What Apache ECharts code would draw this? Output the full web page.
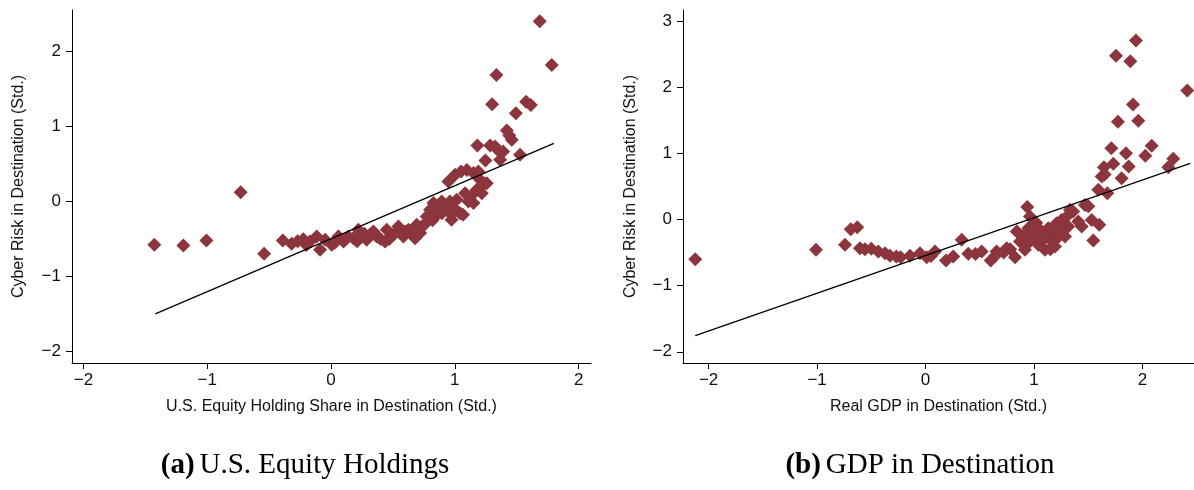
<!DOCTYPE html>
<html>
<head>
<meta charset="utf-8">
<script src="https://cdn.jsdelivr.net/npm/echarts@6/dist/echarts.min.js"></script>
<style>
html,body{margin:0;padding:0;background:#fff;}
#c{width:1194px;height:490px;}
</style>
</head>
<body>
<div id="c"></div>
<script>
// Panel (a): U.S. equity holding share vs cyber risk
const equityPoints = [
[-1.428,-0.577],[-1.193,-0.587],[-1.007,-0.52],[-0.73,0.125],[-0.541,-0.697],[-0.39,-0.52],[-0.318,-0.564],[-0.27,-0.53],[-0.224,-0.502],[-0.20,-0.58],[-0.17,-0.533],[-0.116,-0.467],[-0.089,-0.644],[-0.048,-0.511],[0.005,-0.577],[0.03,-0.55],[0.059,-0.467],[0.10,-0.533],[0.12,-0.50],[0.14,-0.467],[0.18,-0.489],[0.21,-0.53],[0.22,-0.377],[0.248,-0.467],[0.27,-0.43],[0.288,-0.511],[0.31,-0.45],[0.342,-0.40],[0.369,-0.467],[0.40,-0.50],[0.436,-0.533],[0.45,-0.377],[0.47,-0.50],[0.504,-0.444],[0.53,-0.40],[0.544,-0.333],[0.584,-0.467],[0.60,-0.40],[0.625,-0.377],[0.65,-0.43],[0.679,-0.489],[0.692,-0.311],[0.72,-0.42],[0.733,-0.333],[0.76,-0.30],[0.773,-0.20],[0.80,-0.111],[0.82,-0.25],[0.827,-0.021],[0.85,-0.10],[0.867,-0.155],[0.894,0.0],[0.895,-0.155],[0.91,-0.05],[0.935,-0.111],[0.948,0.267],[0.96,0.0],[0.973,-0.244],[0.975,-0.177],[1.0,-0.1],[1.002,0.356],[1.015,0.023],[1.042,-0.155],[1.05,0.40],[1.066,-0.178],[1.083,0.112],[1.097,0.42],[1.11,0.0],[1.128,0.067],[1.15,-0.021],[1.15,0.38],[1.177,0.156],[1.19,0.40],[1.204,0.289],[1.218,0.112],[1.237,0.24],[1.258,0.245],
[1.686,2.405],[1.783,1.823],[1.336,1.689],[1.301,1.299],[1.493,1.179],[1.576,1.333],[1.614,1.289],[1.420,0.947],[1.44,0.88],[1.460,0.823],[1.182,0.747],[1.285,0.747],[1.325,0.733],[1.352,0.68],[1.39,0.667],[1.247,0.547],[1.366,0.556],[1.527,0.623]
];
const equityFit = [[-1.42,-1.50],[1.80,0.776]];

// Panel (b): real GDP vs cyber risk
const gdpPoints = [
[-2.123,-0.599],[-1.01,-0.458],[-0.743,-0.383],[-0.69,-0.146],[-0.63,-0.115],[-0.605,-0.433],[-0.559,-0.448],[-0.50,-0.44],[-0.436,-0.484],[-0.374,-0.509],[-0.328,-0.549],[-0.27,-0.56],[-0.23,-0.569],[-0.144,-0.549],[-0.052,-0.509],[0.01,-0.569],[0.05,-0.55],[0.087,-0.484],[0.188,-0.62],[0.255,-0.56],[0.333,-0.307],[0.394,-0.519],[0.46,-0.52],[0.517,-0.484],[0.6,-0.62],[0.64,-0.55],[0.655,-0.484],[0.72,-0.5],[0.747,-0.433],[0.78,-0.45],[0.824,-0.569],[0.84,-0.182],[0.87,-0.333],[0.9,-0.25],[0.916,-0.458],[0.937,0.188],[0.947,-0.13],[0.95,-0.35],[0.962,0.045],[0.98,-0.2],[0.993,-0.257],[1.0,-0.3],[1.02,-0.05],[1.024,-0.106],[1.039,-0.383],[1.05,-0.15],[1.07,-0.32],[1.085,-0.231],[1.1,-0.458],[1.12,-0.25],[1.131,-0.13],[1.15,-0.45],[1.162,-0.333],[1.18,-0.15],[1.193,-0.408],[1.2,-0.3],[1.208,-0.055],[1.239,-0.182],[1.25,-0.2],[1.254,-0.005],[1.285,-0.257],[1.30,0.045],[1.315,-0.106],[1.331,0.147],[1.36,0.12],[1.407,-0.03],[1.439,-0.106],[1.469,0.222],[1.5,0.2],[1.531,-0.005],[1.546,-0.318],[1.592,0.449],[1.601,-0.08],[1.623,0.65],[1.65,0.68],[1.675,0.399],[1.807,0.626],
[1.939,2.708],[1.755,2.477],[1.887,2.396],[2.412,1.952],[1.912,1.74],[1.773,1.478],[1.961,1.493],[1.712,1.08],[1.847,1.004],[2.084,1.115],[2.025,0.964],[1.73,0.843],[1.872,0.802],[1.644,0.793],[2.283,0.918],[2.237,0.793]
];
const gdpFit = [[-2.123,-1.757],[2.439,0.851]];

const xTicksA = [-2,-1,0,1,2];
const yTicksA = [-2,-1,0,1,2];
const xTicksB = [-2,-1,0,1,2];
const yTicksB = [-2,-1,0,1,2,3];

const xTitleA = 'U.S. Equity Holding Share in Destination (Std.)';
const xTitleB = 'Real GDP in Destination (Std.)';
const yTitle = 'Cyber Risk in Destination (Std.)';
const captionA = ['(a)', 'U.S. Equity Holdings'];
const captionB = ['(b)', 'GDP in Destination'];

const MARK = '#8c353c';
const FONT = 'Liberation Sans, Arial, Helvetica, sans-serif';
const fmt = v => String(v).replace('-', '\u2212');

function xAxis(idx, min, max, ticks, name) {
  return {
    type: 'value', gridIndex: idx, min: min, max: max,
    name: name, nameLocation: 'middle', nameGap: 36,
    nameTextStyle: {fontFamily: FONT, fontSize: 16, color: '#111'},
    axisLine: {show: true, onZero: false, lineStyle: {color: '#000', width: 1}},
    axisTick: {show: true, length: 6, customValues: ticks, lineStyle: {color: '#000'}},
    axisLabel: {customValues: ticks, formatter: fmt, margin: 9, fontFamily: FONT, fontSize: 17, color: '#111'},
    splitLine: {show: false}
  };
}
function yAxis(idx, min, max, ticks, gap) {
  return {
    type: 'value', gridIndex: idx, min: min, max: max,
    name: yTitle, nameLocation: 'middle', nameGap: gap, nameRotate: 90,
    nameTextStyle: {fontFamily: FONT, fontSize: 16, color: '#111'},
    axisLine: {show: true, onZero: false, lineStyle: {color: '#000', width: 1}},
    axisTick: {show: true, length: 6, customValues: ticks, lineStyle: {color: '#000'}},
    axisLabel: {customValues: ticks, formatter: fmt, margin: 11, fontFamily: FONT, fontSize: 17, color: '#111'},
    splitLine: {show: false}
  };
}

const captionRich = {
  b: {fontFamily: 'Liberation Serif, serif', fontWeight: 'bold', fontSize: 29, color: '#000'},
  n: {fontFamily: 'Liberation Serif, serif', fontWeight: 'normal', fontSize: 29, color: '#000'}
};

const option = {
  backgroundColor: '#fff',
  animation: false,
  title: [
    {text: '{b|' + captionA[0] + '} {n|' + captionA[1] + '}', left: 300, top: 446, textAlign: 'center',
     textStyle: {fontWeight: 'normal', rich: captionRich}},
    {text: '{b|' + captionB[0] + '} {n|' + captionB[1] + '}', left: 915, top: 446, textAlign: 'center',
     textStyle: {fontWeight: 'normal', rich: captionRich}}
  ],
  grid: [
    {left: 72, top: 10, width: 519, height: 353, outerBoundsMode: 'none'},
    {left: 683, top: 10, width: 511, height: 353, outerBoundsMode: 'none'}
  ],
  xAxis: [
    xAxis(0, -2.093, 2.10, xTicksA, xTitleA),
    xAxis(1, -2.236, 2.474, xTicksB, xTitleB)
  ],
  yAxis: [
    yAxis(0, -2.155, 2.556, yTicksA, 45),
    yAxis(1, -2.17, 3.17, yTicksB, 44)
  ],
  series: [
    {type: 'scatter', xAxisIndex: 0, yAxisIndex: 0, data: equityPoints, symbol: 'diamond', symbolSize: 14,
     itemStyle: {color: MARK, opacity: 1}, z: 2},
    {type: 'line', xAxisIndex: 0, yAxisIndex: 0, data: equityFit, symbol: 'none',
     lineStyle: {color: '#000', width: 1.3}, z: 3},
    {type: 'scatter', xAxisIndex: 1, yAxisIndex: 1, data: gdpPoints, symbol: 'diamond', symbolSize: 14,
     itemStyle: {color: MARK, opacity: 1}, z: 2},
    {type: 'line', xAxisIndex: 1, yAxisIndex: 1, data: gdpFit, symbol: 'none',
     lineStyle: {color: '#000', width: 1.3}, z: 3}
  ]
};
const chart = echarts.init(document.getElementById('c'), null, {renderer: 'canvas'});
chart.setOption(option);
</script>
</body>
</html>
